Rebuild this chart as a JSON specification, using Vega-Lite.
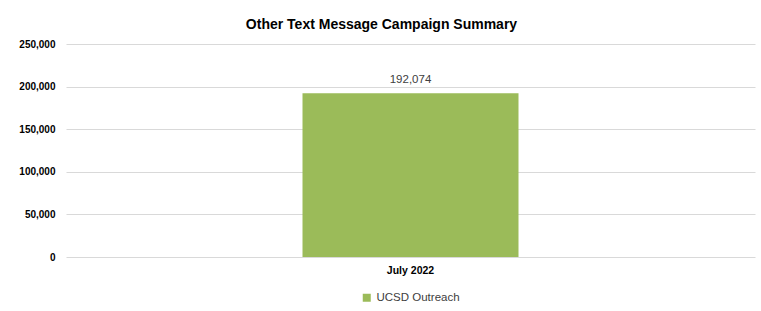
{
  "$schema": "https://vega.github.io/schema/vega-lite/v6.json",
  "autosize": {"type": "none"},
  "width": 689,
  "height": 213,
  "padding": {"left": 66, "top": 44, "right": 6, "bottom": 54},
  "background": "white",
  "title": {
    "text": "Other Text Message Campaign Summary",
    "font": "Liberation Sans",
    "fontSize": 14,
    "fontWeight": "bold",
    "color": "#000000",
    "anchor": "middle",
    "dx": -29,
    "offset": 7
  },
  "data": {"values": [{"month": "July 2022", "series": "UCSD Outreach", "messages": 192074}]},
  "config": {
    "view": {"stroke": null},
    "font": "Liberation Sans"
  },
  "encoding": {
    "x": {
      "field": "month",
      "type": "nominal",
      "title": null,
      "axis": {
        "labelAngle": 0,
        "labelFontWeight": "bold",
        "labelFontSize": 10.5,
        "labelColor": "#000000",
        "labelPadding": 8,
        "domain": false,
        "ticks": false
      }
    },
    "y": {
      "field": "messages",
      "type": "quantitative",
      "title": null,
      "scale": {"domain": [0, 250000], "nice": false},
      "axis": {
        "values": [0, 50000, 100000, 150000, 200000, 250000],
        "format": ",d",
        "labelFontWeight": "bold",
        "labelFontSize": 10,
        "labelColor": "#000000",
        "labelPadding": 11,
        "domain": false,
        "ticks": false,
        "gridColor": "#d9d9d9",
        "gridWidth": 1
      }
    }
  },
  "layer": [
    {
      "mark": {"type": "bar", "width": 216},
      "encoding": {
        "color": {
          "field": "series",
          "type": "nominal",
          "scale": {"range": ["#9BBB59"]},
          "legend": {
            "title": null,
            "orient": "none",
            "legendX": 295,
            "legendY": 248,
            "direction": "horizontal",
            "symbolType": "square",
            "symbolSize": 64,
            "labelFontSize": 11.5,
            "labelColor": "#404040"
          }
        }
      }
    },
    {
      "mark": {"type": "text", "dy": -13, "fontSize": 11.5, "color": "#404040"},
      "encoding": {
        "text": {"field": "messages", "type": "quantitative", "format": ",d"}
      }
    }
  ]
}
